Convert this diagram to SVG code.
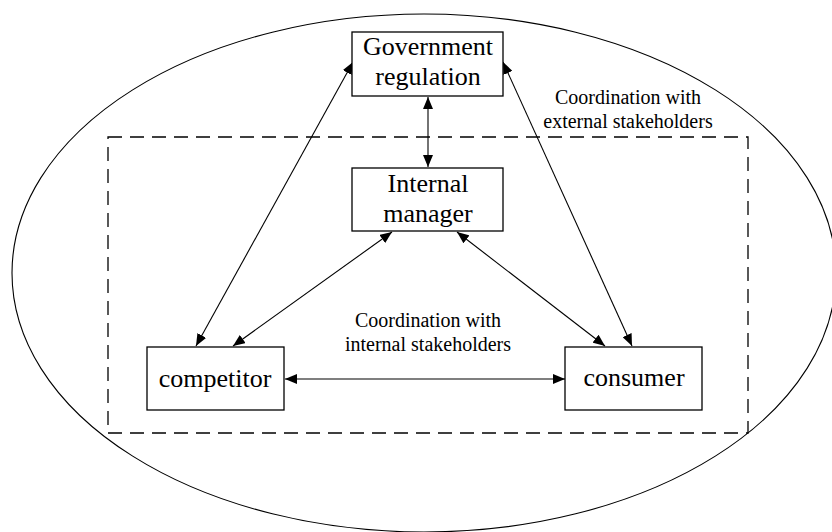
<svg xmlns="http://www.w3.org/2000/svg" width="832" height="532" viewBox="0 0 832 532">
<defs>
<marker id="ah" viewBox="0 0 12 10" refX="12" refY="5" markerWidth="12" markerHeight="10" markerUnits="userSpaceOnUse" orient="auto-start-reverse">
<path d="M0,0 L12,5 L0,10 Z" fill="#000"/>
</marker>
<style>
.box{fill:#fff;stroke:#000;stroke-width:1.3}
.t{font-family:"Liberation Serif","Times New Roman",serif;font-size:26px;fill:#000;text-anchor:middle}
.l{font-family:"Liberation Serif","Times New Roman",serif;font-size:20px;fill:#000;text-anchor:middle}
.c{fill:none;stroke:#000;stroke-width:1.1;marker-start:url(#ah);marker-end:url(#ah)}
</style>
</defs>
<rect width="832" height="532" fill="#fff"/>
<ellipse id="outer" cx="424" cy="273" rx="412" ry="259" fill="none" stroke="#000" stroke-width="1.1"/>
<rect id="inner-boundary" x="108" y="137" width="640" height="296" fill="none" stroke="#000" stroke-width="1.3" stroke-dasharray="14,8"/>
<g id="connectors">
<line class="c" x1="428" y1="97" x2="428" y2="167"/>
<line class="c" x1="353" y1="62" x2="196" y2="346"/>
<line class="c" x1="503" y1="62" x2="632" y2="346"/>
<line class="c" x1="392" y1="232" x2="233" y2="346"/>
<line class="c" x1="457" y1="232" x2="605" y2="346"/>
<line class="c" x1="285" y1="379" x2="565" y2="379"/>
</g>
<g id="government">
<rect class="box" x="352" y="32" width="151" height="64"/>
<text class="t" x="428" y="55">Government</text>
<text class="t" x="428" y="85">regulation</text>
</g>
<g id="internal-manager">
<rect class="box" x="352" y="168" width="151" height="63"/>
<text class="t" x="428" y="192">Internal</text>
<text class="t" x="428" y="222">manager</text>
</g>
<g id="competitor">
<rect class="box" x="147" y="347" width="137" height="63"/>
<text class="t" x="215" y="387">competitor</text>
</g>
<g id="consumer">
<rect class="box" x="565" y="347" width="137" height="63"/>
<text class="t" x="634" y="386">consumer</text>
</g>
<g id="label-external">
<text class="l" x="628" y="104">Coordination with</text>
<text class="l" x="628" y="128">external stakeholders</text>
</g>
<g id="label-internal">
<text class="l" x="428" y="327">Coordination with</text>
<text class="l" x="428" y="351">internal stakeholders</text>
</g>
</svg>
